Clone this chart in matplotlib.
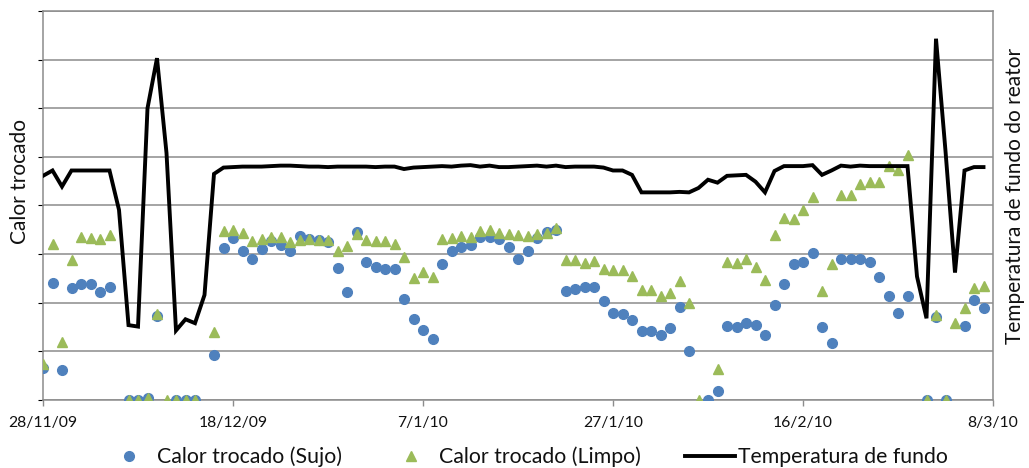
import numpy as np
import pandas as pd
import matplotlib
matplotlib.use("Agg")
import matplotlib.pyplot as plt
from matplotlib.lines import Line2D

plt.rcParams['font.family'] = ['Lato', 'DejaVu Sans']

nan = np.nan

# Daily series, 28/11/2009 .. 07/03/2010 (arbitrary units, no scale shown)
start_date = "2009-11-28"

calor_sujo = [
    0.66, 2.41, 0.62, 2.31, 2.39, 2.39, 2.22, 2.33, nan, 0.00,
    0.00, 0.04, 1.73, nan, 0.00, 0.00, 0.00, nan, 0.93, 3.12,
    3.33, 3.07, 2.91, 3.10, 3.26, 3.18, 3.07, 3.38, 3.31, 3.29,
    3.24, 2.71, 2.22, 3.45, 2.83, 2.74, 2.70, 2.70, 2.08, 1.67,
    1.43, 1.26, 2.79, 3.07, 3.15, 3.18, 3.35, 3.35, 3.31, 3.15,
    2.89, 3.07, 3.33, 3.46, 3.50, 2.25, 2.28, 2.32, 2.33, 2.04,
    1.78, 1.77, 1.65, 1.42, 1.42, 1.34, 1.48, 1.92, 1.01, nan,
    0.00, 0.18, 1.52, 1.50, 1.58, 1.54, 1.34, 1.96, 2.38, 2.79,
    2.83, 3.03, 1.51, 1.18, 2.91, 2.89, 2.89, 2.83, 2.52, 2.14,
    1.78, 2.13, nan, 0.00, 1.70, 0.00, nan, 1.52, 2.05, 1.89,
]

calor_limpo = [
    0.74, 3.20, 1.20, 2.88, 3.35, 3.33, 3.32, 3.40, nan, 0.00,
    0.00, 0.05, 1.77, 0.00, 0.00, 0.00, 0.00, nan, 1.39, 3.48,
    3.50, 3.43, 3.27, 3.32, 3.36, 3.35, 3.25, 3.29, 3.31, 3.29,
    3.29, 3.07, 3.17, 3.42, 3.29, 3.26, 3.27, 3.21, 2.95, 2.50,
    2.63, 2.53, 3.31, 3.33, 3.38, 3.36, 3.48, 3.50, 3.44, 3.42,
    3.40, 3.37, 3.42, 3.43, 3.53, 2.87, 2.87, 2.82, 2.85, 2.70,
    2.68, 2.68, 2.56, 2.27, 2.27, 2.13, 2.21, 2.44, 2.00, 0.00,
    nan, 0.63, 2.84, 2.81, 2.91, 2.74, 2.47, 3.40, 3.74, 3.73,
    3.90, 4.18, 2.25, 2.79, 4.21, 4.22, 4.44, 4.48, 4.48, 4.82,
    4.72, 5.04, nan, 0.00, 1.75, 0.00, 1.59, 1.90, 2.30, 2.35,
]

temperatura_fundo = [
    4.61, 4.72, 4.39, 4.72, 4.72, 4.72, 4.72, 4.72, 3.91, 1.54,
    1.51, 6.00, 7.03, 5.08, 1.43, 1.66, 1.58, 2.16, 4.65, 4.78,
    4.79, 4.80, 4.80, 4.80, 4.81, 4.82, 4.82, 4.81, 4.80, 4.80,
    4.79, 4.80, 4.80, 4.80, 4.80, 4.79, 4.80, 4.80, 4.75, 4.78,
    4.79, 4.80, 4.81, 4.80, 4.82, 4.83, 4.80, 4.82, 4.79, 4.79,
    4.80, 4.81, 4.82, 4.80, 4.82, 4.79, 4.80, 4.80, 4.80, 4.78,
    4.72, 4.72, 4.63, 4.27, 4.27, 4.27, 4.27, 4.28, 4.27, 4.36,
    4.53, 4.47, 4.61, 4.62, 4.63, 4.49, 4.27, 4.71, 4.81, 4.81,
    4.81, 4.83, 4.63, 4.72, 4.82, 4.80, 4.82, 4.81, 4.81, 4.81,
    4.81, 4.81, 2.54, 1.68, 7.43, 5.12, 2.62, 4.72, 4.79, 4.79,
]

tick_dates = ["2009-11-28", "2009-12-18", "2010-01-07",
              "2010-01-27", "2010-02-16", "2010-03-08"]
tick_labels = ["28/11/09", "18/12/09", "7/1/10", "27/1/10", "16/2/10", "8/3/10"]

legend_labels = ["Calor trocado (Sujo)", "Calor trocado (Limpo)",
                 "Temperatura de fundo"]
ylabel_left = "Calor trocado"
ylabel_right = "Temperatura de fundo do reator"

dates = pd.date_range(start_date, periods=len(calor_sujo), freq="D")

BLUE = "#4F81BD"
GREEN = "#9BBB59"
GRID = "#8C8C8C"
TEXT = "#111111"

W, H = 1029, 468
fig = plt.figure(figsize=(W / 100, H / 100), dpi=100)
ax = fig.add_axes([43 / W, 1 - 400 / H, (993 - 43) / W, (400 - 11) / H])

ax.plot(dates, calor_sujo, linestyle="none", marker="o", ms=7.0,
        color=BLUE, zorder=3)
ax.plot(dates, calor_limpo, linestyle="none", marker="^", ms=7.6,
        color=GREEN, zorder=4)

ax.set_ylim(0, 8)
ax.set_yticks(np.arange(0, 9))
ax.yaxis.grid(True, color=GRID, linewidth=1.1)
ax.set_axisbelow(True)
ax.tick_params(axis="y", left=False, labelleft=False)

ax.set_xlim(pd.Timestamp(tick_dates[0]), pd.Timestamp(tick_dates[-1]))
ax.set_xticks(pd.to_datetime(tick_dates))
ax.set_xticklabels(tick_labels, fontsize=11.3, color=TEXT)
ax.tick_params(axis="x", direction="out", length=4.5, width=1.0,
               color=GRID, pad=7)

for side in ("left", "right", "bottom", "top"):
    ax.spines[side].set_color(GRID)
    ax.spines[side].set_linewidth(1.1)

ax2 = ax.twinx()
ax2.plot(dates, temperatura_fundo, color="black", linewidth=2.8,
         solid_joinstyle="miter", zorder=5)
ax2.set_ylim(0, 8)
ax2.tick_params(axis="y", right=False, labelright=False)
for side in ("left", "right", "bottom", "top"):
    ax2.spines[side].set_visible(False)

fig.text(20 / W, 1 - 182 / H, ylabel_left, rotation=90, fontsize=15,
         ha="center", va="center", color=TEXT)
fig.text(1015 / W, 1 - 196 / H, ylabel_right, rotation=90, fontsize=15,
         ha="center", va="center", color=TEXT)

handles = [
    Line2D([], [], linestyle="none", marker="o", ms=7.0, color=BLUE),
    Line2D([], [], linestyle="none", marker="^", ms=7.6, color=GREEN),
    Line2D([], [], color="black", linewidth=2.8),
]
fig.legend(handles, legend_labels, ncol=3, loc="center",
           bbox_to_anchor=(526 / W, 1 - 457 / H), frameon=False,
           fontsize=15.3, handlelength=2.35, handletextpad=0.14,
           columnspacing=2.07, borderpad=0, borderaxespad=0,
           labelcolor=TEXT)

fig.savefig("out.png", dpi=100)
